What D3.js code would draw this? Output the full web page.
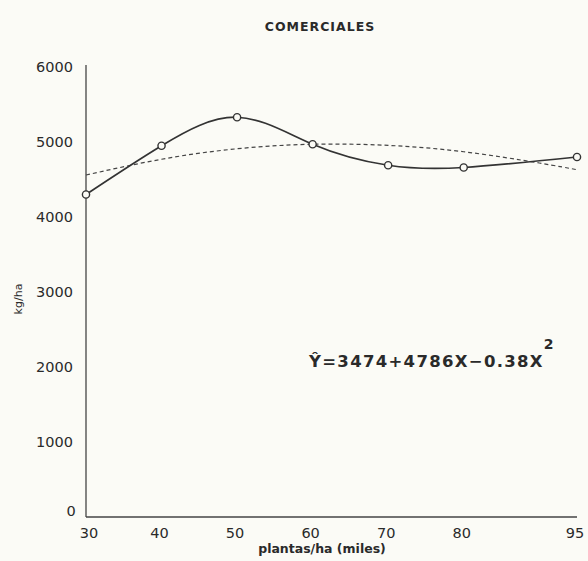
<!DOCTYPE html>
<html>
<head>
<meta charset="utf-8">
<title>Comerciales</title>
<style>
  body { margin: 0; background: #fbfbf6; }
  svg { display: block; }
  text { font-family: "DejaVu Sans", sans-serif; fill: #2a2a2a; }
  .tick-label { font-size: 14.5px; }
  .title { font-size: 12.5px; font-weight: bold; letter-spacing: 1px; }
  .axis-title { font-size: 12.5px; font-weight: bold; }
  .axis-line { stroke: #444; stroke-width: 1.3; fill: none; }
  .obs-line { stroke: #333; stroke-width: 1.7; fill: none; }
  .fit-line { stroke: #444; stroke-width: 1.2; fill: none; stroke-dasharray: 4,3; }
  .obs-dot { fill: #fbfbf6; stroke: #333; stroke-width: 1.4; }
</style>
</head>
<body>
<svg width="588" height="561"></svg>
<script src="https://cdnjs.cloudflare.com/ajax/libs/d3/7.8.5/d3.min.js"></script>
<script>
// observed yields (kg/ha) by plant density (thousands/ha)
var densidad = [30, 40, 50, 60, 70, 80, 95];
var rendimiento = [4300, 4950, 5330, 4970, 4690, 4660, 4800];

// fitted quadratic
var densidadAjuste = [30, 40, 50, 60, 70, 80, 90, 95];
var rendimientoAjuste = [4560, 4770, 4910, 4970, 4955, 4870, 4720, 4630];

var yTicks = [0, 1000, 2000, 3000, 4000, 5000, 6000];
var xTicks = [30, 40, 50, 60, 70, 80, 95];

var svg = d3.select("svg");

var x = d3.scaleLinear().domain([30, 95]).range([86, 577]);
var y = d3.scaleLinear().domain([0, 6000]).range([517, 67]);

// axes lines
svg.append("line").attr("class", "axis-line")
    .attr("x1", x(30)).attr("x2", x(30))
    .attr("y1", y(6000) - 2).attr("y2", y(0));
svg.append("line").attr("class", "axis-line")
    .attr("x1", x(30)).attr("x2", x(95))
    .attr("y1", y(0)).attr("y2", y(0));

// y tick labels (0 sits lower left of origin)
svg.selectAll(".ylab")
    .data(yTicks.filter(function(d) { return d > 0; }))
  .enter().append("text")
    .attr("class", "tick-label")
    .attr("x", 73)
    .attr("y", function(d) { return y(d) + 5; })
    .attr("text-anchor", "end")
    .text(function(d) { return d; });

svg.append("text").attr("class", "tick-label")
    .attr("x", 71).attr("y", y(0) - 1)
    .attr("text-anchor", "middle")
    .text("0");

svg.selectAll(".xlab")
    .data(xTicks)
  .enter().append("text")
    .attr("class", "tick-label")
    .attr("x", function(d) { return d == 30 ? x(d) + 3 : x(d) - 2; })
    .attr("y", y(0) + 21)
    .attr("text-anchor", "middle")
    .text(function(d) { return d; });

// titles
svg.append("text").attr("class", "title")
    .attr("x", 320).attr("y", 31)
    .attr("text-anchor", "middle")
    .text("COMERCIALES");

svg.append("text").attr("class", "axis-title")
    .attr("x", 322).attr("y", 553)
    .attr("text-anchor", "middle")
    .text("plantas/ha (miles)");

svg.append("text").attr("class", "axis-title")
    .attr("transform", "translate(22,299) rotate(-90)")
    .attr("text-anchor", "middle")
    .style("font-size", "11px")
    .style("font-weight", "normal")
    .text("kg/ha");

// fitted curve
var fitLine = d3.line()
    .x(function(d, i) { return x(densidadAjuste[i]); })
    .y(function(d) { return y(d); })
    .curve(d3.curveNatural);

svg.append("path").attr("class", "fit-line")
    .attr("d", fitLine(rendimientoAjuste));

// observed curve
var obsLine = d3.line()
    .x(function(d, i) { return x(densidad[i]); })
    .y(function(d) { return y(d); })
    .curve(d3.curveNatural);

svg.append("path").attr("class", "obs-line")
    .attr("d", obsLine(rendimiento));

svg.selectAll(".obs-dot")
    .data(rendimiento)
  .enter().append("circle")
    .attr("class", "obs-dot")
    .attr("cx", function(d, i) { return x(densidad[i]); })
    .attr("cy", function(d) { return y(d); })
    .attr("r", 3.6);

// equation
var eq = svg.append("text")
    .attr("x", 309).attr("y", 367)
    .style("font-size", "16.5px")
    .style("font-weight", "bold")
    .style("letter-spacing", "1.3px");
eq.append("tspan").text("Ŷ=3474+4786X\u22120.38X");
eq.append("tspan").attr("dy", -18).attr("dx", 0)
    .style("font-size", "14px").text("2");
</script>
</body>
</html>
